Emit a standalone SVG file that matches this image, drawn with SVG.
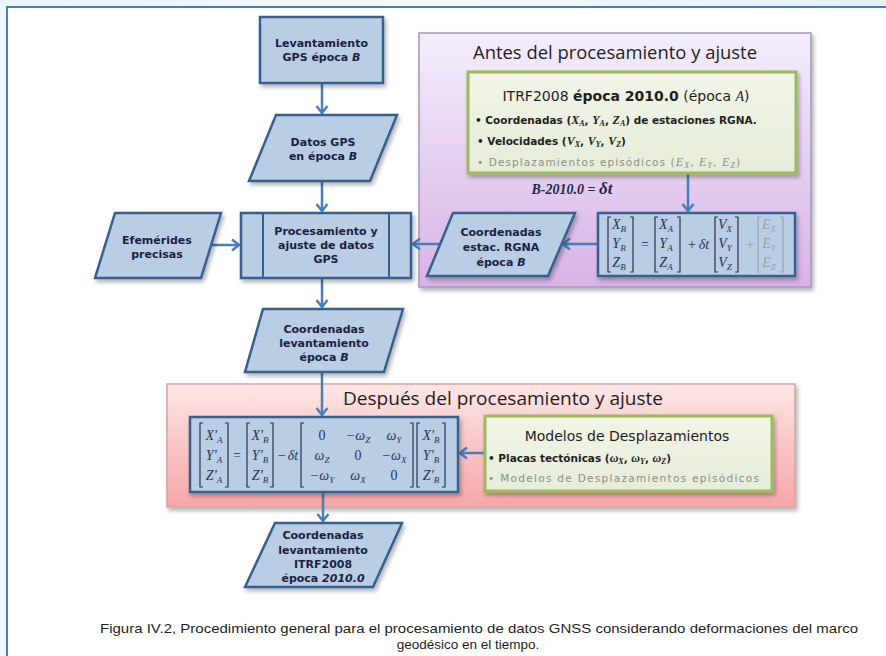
<svg xmlns="http://www.w3.org/2000/svg" width="886" height="656" viewBox="0 0 886 656">
<defs>
<style>
.node{fill:#b9cde5;stroke:#37608f;stroke-width:2.5}
.nt{font-family:"DejaVu Sans",sans-serif;font-weight:bold;font-size:11px;fill:#1a2240;text-anchor:middle}
.conn{stroke:#4a7ebb;stroke-width:2.5;fill:none;marker-end:url(#arr)}
.gbox{fill:url(#gGreen);stroke:#9bbb59;stroke-width:3}
.gt{font-family:"DejaVu Sans",sans-serif;font-size:14px;fill:#1e1e1e}
.gb{font-family:"DejaVu Sans",sans-serif;font-size:10.5px;font-weight:bold;fill:#1e1e1e}
.gg{font-family:"DejaVu Sans",sans-serif;font-size:10.5px;fill:#8c918a}
.v{font-family:"Liberation Serif",serif;font-style:italic;font-size:12px}
.s{font-family:"Liberation Serif",serif;font-style:italic;font-size:8px}
.m{font-family:"Liberation Serif",serif;font-style:italic;font-size:14px;fill:#2a3550;text-anchor:middle}
.mg{font-family:"Liberation Serif",serif;font-style:italic;font-size:14px;fill:#9aa3ad;text-anchor:middle}
.mu{font-family:"Liberation Serif",serif;font-size:14px;fill:#2a3550;text-anchor:middle}
.br{stroke:#2a3550;stroke-width:1.2;fill:none}
.brg{stroke:#9aa3ad;stroke-width:1.2;fill:none}
.title{font-family:"Open Sans","Noto Sans",sans-serif;font-size:19px;fill:#1e1e1e;text-anchor:middle}
.cap{font-family:"Liberation Sans",Arial,sans-serif;font-size:13.5px;fill:#1e1e1e}
</style>
<marker id="arr" markerWidth="14" markerHeight="14" refX="9" refY="7" orient="auto" markerUnits="userSpaceOnUse">
<path d="M2,1.5 L9,7 L2,12.5" fill="none" stroke="#4a7ebb" stroke-width="2.5"/>
</marker>
<linearGradient id="gPurple" x1="0" y1="0" x2="0" y2="1">
<stop offset="0" stop-color="#f3eefb"/>
<stop offset="1" stop-color="#d8b3e7"/>
</linearGradient>
<linearGradient id="gPink" x1="0" y1="0" x2="0" y2="1">
<stop offset="0" stop-color="#fde6e6"/>
<stop offset="1" stop-color="#f6a6a6"/>
</linearGradient>
<linearGradient id="gGreen" x1="0" y1="0" x2="0" y2="1">
<stop offset="0" stop-color="#f1f5e8"/>
<stop offset="1" stop-color="#e6edd8"/>
</linearGradient>
<linearGradient id="gTop" x1="0" y1="0" x2="1" y2="0">
<stop offset="0" stop-color="#eaf5f6"/>
<stop offset="0.5" stop-color="#f4fafa"/>
<stop offset="1" stop-color="#e3f1f2"/>
</linearGradient>
<filter id="sh" x="-10%" y="-10%" width="130%" height="130%">
<feDropShadow dx="2" dy="3" stdDeviation="2" flood-color="#000" flood-opacity="0.3"/>
</filter>
</defs>

<!-- page background and frame -->
<rect x="0" y="0" width="886" height="656" fill="#eef7f8"/>
<rect x="0" y="0" width="886" height="7" fill="url(#gTop)"/>
<rect x="7" y="7" width="879" height="649" fill="#ffffff"/>
<path d="M7,656 L7,7 L886,7" fill="none" stroke="#4a7ebb" stroke-width="2"/>

<!-- containers -->
<g id="cont-antes">
<rect x="419" y="33" width="392" height="254" fill="url(#gPurple)" stroke="#a497b8" stroke-width="1.5" filter="url(#sh)"/>
<text class="title" x="615" y="59" textLength="284" lengthAdjust="spacingAndGlyphs">Antes del procesamiento y ajuste</text>
</g>
<g id="cont-despues">
<rect x="167" y="384" width="628" height="123" fill="url(#gPink)" stroke="#d7a3a3" stroke-width="1.5" filter="url(#sh)"/>
<text class="title" x="503" y="405" textLength="320" lengthAdjust="spacingAndGlyphs">Después del procesamiento y ajuste</text>
</g>

<!-- connectors -->
<g id="connectors">
<line class="conn" x1="322" y1="84" x2="322" y2="113"/>
<line class="conn" x1="322" y1="182" x2="322" y2="211"/>
<line class="conn" x1="209" y1="245" x2="239" y2="245"/>
<line class="conn" x1="441" y1="244" x2="413" y2="244"/>
<line class="conn" x1="597" y1="244" x2="563" y2="244"/>
<line class="conn" x1="688" y1="174" x2="688" y2="211"/>
<line class="conn" x1="322" y1="279" x2="322" y2="307"/>
<line class="conn" x1="322" y1="373" x2="322" y2="415"/>
<line class="conn" x1="484" y1="453" x2="460" y2="453"/>
<line class="conn" x1="323" y1="493" x2="323" y2="521"/>
</g>

<!-- nodes -->
<g id="n-levantamiento">
<rect class="node" x="260" y="17" width="123" height="66" filter="url(#sh)"/>
<text class="nt" x="321.5" y="47">Levantamiento</text>
<text class="nt" x="321.5" y="61">GPS época <tspan font-style="italic">B</tspan></text>
</g>

<g id="n-datos">
<polygon class="node" points="276,115 397,115 370,181 249,181" filter="url(#sh)"/>
<text class="nt" x="323" y="146">Datos GPS</text>
<text class="nt" x="323" y="160">en época <tspan font-style="italic">B</tspan></text>
</g>

<g id="n-efemerides">
<polygon class="node" points="115,213 221,213 201,278 95,278" filter="url(#sh)"/>
<text class="nt" x="157" y="244">Efemérides</text>
<text class="nt" x="157" y="258">precisas</text>
</g>

<g id="n-procesamiento">
<rect class="node" x="241" y="213" width="170" height="65" filter="url(#sh)"/>
<line x1="263" y1="213" x2="263" y2="278" stroke="#37608f" stroke-width="2"/>
<line x1="389" y1="213" x2="389" y2="278" stroke="#37608f" stroke-width="2"/>
<text class="nt" x="326" y="235">Procesamiento y</text>
<text class="nt" x="326" y="249">ajuste de datos</text>
<text class="nt" x="326" y="263">GPS</text>
</g>

<g id="n-itrf">
<rect class="gbox" x="468" y="72" width="328" height="101" filter="url(#sh)"/>
<text class="gt" x="626" y="101" text-anchor="middle">ITRF2008 <tspan font-weight="bold">época 2010.0</tspan> (época <tspan font-family="Liberation Serif" font-style="italic">A</tspan>)</text>
<text class="gb" x="475" y="124">• Coordenadas (<tspan class="v">X</tspan><tspan class="s" dy="2">A</tspan><tspan dy="-2">, </tspan><tspan class="v">Y</tspan><tspan class="s" dy="2">A</tspan><tspan dy="-2">, </tspan><tspan class="v">Z</tspan><tspan class="s" dy="2">A</tspan><tspan dy="-2">)  de estaciones RGNA.</tspan></text>
<text class="gb" x="477" y="145">•  Velocidades (<tspan class="v">V</tspan><tspan class="s" dy="2">X</tspan><tspan dy="-2">, </tspan><tspan class="v">V</tspan><tspan class="s" dy="2">Y</tspan><tspan dy="-2">, </tspan><tspan class="v">V</tspan><tspan class="s" dy="2">Z</tspan><tspan dy="-2">)</tspan></text>
<text class="gg" x="477" y="166" letter-spacing="1.1">•  Desplazamientos episódicos (<tspan class="v">E</tspan><tspan class="s" dy="2">X</tspan><tspan dy="-2">, </tspan><tspan class="v">E</tspan><tspan class="s" dy="2">Y</tspan><tspan dy="-2">, </tspan><tspan class="v">E</tspan><tspan class="s" dy="2">Z</tspan><tspan dy="-2">)</tspan></text>
</g>

<g id="lbl-dt">
<text x="572" y="194" text-anchor="middle" font-family="Liberation Serif,serif" font-style="italic" font-weight="bold" font-size="14" fill="#1e2a44">B-2010.0 = <tspan font-size="17">δt</tspan></text>
</g>

<g id="n-eqA">
<rect class="node" x="598" y="213" width="197" height="63" filter="url(#sh)"/>
<path class="br" d="M611,217 H608 V272 H611 M630,217 H633 V272 H630"/>
<text class="m" x="619" y="229">X<tspan font-size="9" dy="3">B</tspan></text>
<text class="m" x="619" y="248">Y<tspan font-size="9" dy="3">B</tspan></text>
<text class="m" x="619" y="267">Z<tspan font-size="9" dy="3">B</tspan></text>
<text class="mu" x="645" y="249">=</text>
<path class="br" d="M658,217 H655 V272 H658 M677,217 H680 V272 H677"/>
<text class="m" x="666" y="229">X<tspan font-size="9" dy="3">A</tspan></text>
<text class="m" x="666" y="248">Y<tspan font-size="9" dy="3">A</tspan></text>
<text class="m" x="666" y="267">Z<tspan font-size="9" dy="3">A</tspan></text>
<text class="mu" x="692" y="249">+</text>
<text class="m" x="704" y="249">δt</text>
<path class="br" d="M718,217 H715 V272 H718 M735,217 H738 V272 H735"/>
<text class="m" x="725" y="229">V<tspan font-size="9" dy="3">X</tspan></text>
<text class="m" x="725" y="248">V<tspan font-size="9" dy="3">Y</tspan></text>
<text class="m" x="725" y="267">V<tspan font-size="9" dy="3">Z</tspan></text>
<text class="mg" x="750" y="249" font-style="normal">+</text>
<path class="brg" d="M761,217 H758 V272 H761 M780,217 H783 V272 H780"/>
<text class="mg" x="769" y="229">E<tspan font-size="9" dy="3">X</tspan></text>
<text class="mg" x="769" y="248">E<tspan font-size="9" dy="3">Y</tspan></text>
<text class="mg" x="769" y="267">E<tspan font-size="9" dy="3">Z</tspan></text>
</g>

<g id="n-coordest">
<polygon class="node" points="453,213 575,213 548,276 427,276" filter="url(#sh)"/>
<text class="nt" x="501" y="236">Coordenadas</text>
<text class="nt" x="501" y="251">estac. RGNA</text>
<text class="nt" x="501" y="266">época <tspan font-style="italic">B</tspan></text>
</g>

<g id="n-coordlev">
<polygon class="node" points="263,309 403,309 384,372 245,372" filter="url(#sh)"/>
<text class="nt" x="324" y="333">Coordenadas</text>
<text class="nt" x="324" y="347">levantamiento</text>
<text class="nt" x="324" y="361">época <tspan font-style="italic">B</tspan></text>
</g>

<g id="n-eqB">
<rect class="node" x="190" y="417" width="268" height="75" filter="url(#sh)"/>
<path class="br" d="M203,423 H200 V487 H203 M225,423 H228 V487 H225"/>
<text class="m" x="214" y="440">X'<tspan font-size="9" dy="3">A</tspan></text>
<text class="m" x="214" y="460">Y'<tspan font-size="9" dy="3">A</tspan></text>
<text class="m" x="214" y="480">Z'<tspan font-size="9" dy="3">A</tspan></text>
<text class="mu" x="237" y="460">=</text>
<path class="br" d="M250,423 H247 V487 H250 M270,423 H273 V487 H270"/>
<text class="m" x="260" y="440">X'<tspan font-size="9" dy="3">B</tspan></text>
<text class="m" x="260" y="460">Y'<tspan font-size="9" dy="3">B</tspan></text>
<text class="m" x="260" y="480">Z'<tspan font-size="9" dy="3">B</tspan></text>
<text class="mu" x="282" y="460">−</text>
<text class="m" x="293" y="460">δt</text>
<path class="br" d="M304,423 H301 V487 H304 M410,423 H413 V487 H410"/>
<text class="mu" x="322" y="440">0</text>
<text class="m" x="358" y="440">−ω<tspan font-size="9" dy="3">Z</tspan></text>
<text class="m" x="394" y="440">ω<tspan font-size="9" dy="3">Y</tspan></text>
<text class="m" x="322" y="460">ω<tspan font-size="9" dy="3">Z</tspan></text>
<text class="mu" x="358" y="460">0</text>
<text class="m" x="394" y="460">−ω<tspan font-size="9" dy="3">X</tspan></text>
<text class="m" x="322" y="480">−ω<tspan font-size="9" dy="3">Y</tspan></text>
<text class="m" x="358" y="480">ω<tspan font-size="9" dy="3">X</tspan></text>
<text class="mu" x="394" y="480">0</text>
<path class="br" d="M420,423 H417 V487 H420 M442,423 H445 V487 H442"/>
<text class="m" x="431" y="440">X'<tspan font-size="9" dy="3">B</tspan></text>
<text class="m" x="431" y="460">Y'<tspan font-size="9" dy="3">B</tspan></text>
<text class="m" x="431" y="480">Z'<tspan font-size="9" dy="3">B</tspan></text>
</g>

<g id="n-modelos">
<rect class="gbox" x="485" y="416" width="287" height="75" filter="url(#sh)"/>
<text class="gt" x="627" y="441" text-anchor="middle" font-size="14.5">Modelos de Desplazamientos</text>
<text class="gb" x="488" y="462">• Placas tectónicas  (<tspan class="v" font-size="10">ω</tspan><tspan class="s" font-size="7" dy="2">X</tspan><tspan dy="-2">, </tspan><tspan class="v" font-size="10">ω</tspan><tspan class="s" font-size="7" dy="2">Y</tspan><tspan dy="-2">, </tspan><tspan class="v" font-size="10">ω</tspan><tspan class="s" font-size="7" dy="2">Z</tspan><tspan dy="-2">)</tspan></text>
<text class="gg" x="488" y="482" letter-spacing="1.3">•  Modelos de Desplazamientos episódicos</text>
</g>

<g id="n-final">
<polygon class="node" points="275,523 402,523 373,587 245,587" filter="url(#sh)"/>
<text class="nt" x="323" y="539">Coordenadas</text>
<text class="nt" x="323" y="554">levantamiento</text>
<text class="nt" x="323" y="568">ITRF2008</text>
<text class="nt" x="323" y="582">época <tspan font-style="italic">2010.0</tspan></text>
</g>

<g id="caption">
<text class="cap" x="100" y="633" textLength="758" lengthAdjust="spacingAndGlyphs">Figura IV.2, Procedimiento general para el procesamiento de datos GNSS considerando deformaciones del marco</text>
<text class="cap" x="468" y="649" text-anchor="middle">geodésico en el tiempo.</text>
</g>
</svg>
